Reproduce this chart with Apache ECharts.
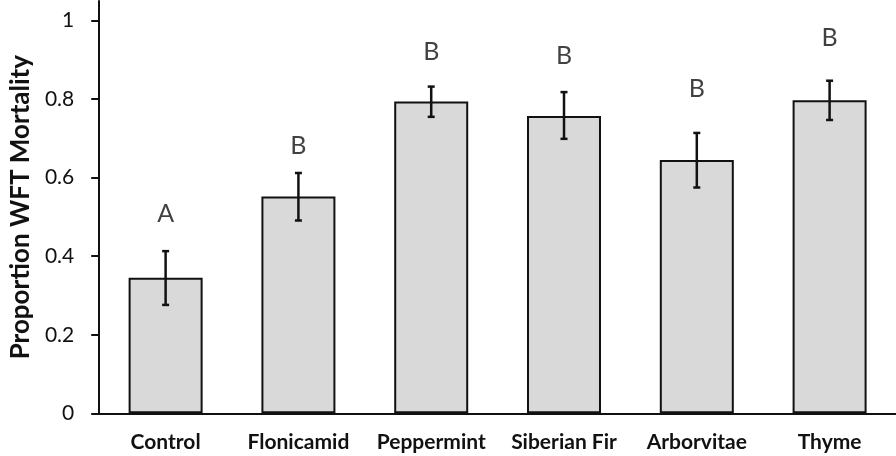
<!DOCTYPE html>
<html>
<head>
<meta charset="utf-8">
<script src="https://cdn.jsdelivr.net/npm/echarts@6/dist/echarts.min.js"></script>
<style>
html,body{margin:0;padding:0;background:#fff;}
#chart{width:896px;height:456px;}
</style>
</head>
<body>
<div id="chart"></div>
<script>
// ---- data ----
const categories = ['Control', 'Flonicamid', 'Peppermint', 'Siberian Fir', 'Arborvitae', 'Thyme'];
const meanValues = [0.345, 0.552, 0.794, 0.757, 0.645, 0.797];
const errLow = [0.276, 0.491, 0.755, 0.699, 0.575, 0.747];
const errHigh = [0.413, 0.612, 0.832, 0.818, 0.714, 0.847];
const groupLetters = ['A', 'B', 'B', 'B', 'B', 'B'];
const letterY = [0.508, 0.680, 0.921, 0.911, 0.827, 0.955];
const yTicks = [0, 0.2, 0.4, 0.6, 0.8, 1];

const FONT = "Lato, 'Open Sans', sans-serif";

const chart = echarts.init(document.getElementById('chart'), null, {renderer: 'canvas'});

const option = {
  backgroundColor: '#ffffff',
  animation: false,
  grid: {left: 94, right: 0, top: 1, bottom: 42.7, containLabel: false},
  xAxis: {
    type: 'category',
    data: categories,
    axisLine: {lineStyle: {color: '#111', width: 2}},
    axisTick: {show: false},
    axisLabel: {
      interval: 0,
      color: '#111', fontFamily: FONT, fontWeight: 'bold', fontSize: 21, margin: 18
    },
    splitLine: {show: false}
  },
  yAxis: {
    type: 'value',
    min: 0,
    max: 1.05,
    name: 'Proportion WFT Mortality',
    nameLocation: 'middle',
    nameGap: 65,
    nameTextStyle: {color: '#111', fontFamily: FONT, fontWeight: 'bold', fontSize: 26},
    axisLine: {show: true, lineStyle: {color: '#111', width: 2}},
    axisTick: {show: true, inside: false, length: 8, lineStyle: {color: '#111', width: 2}, customValues: yTicks},
    axisLabel: {
      color: '#111', fontFamily: FONT, fontSize: 21, margin: 25, customValues: yTicks,
      formatter: v => String(Math.round(v * 10) / 10)
    },
    splitLine: {show: false}
  },
  series: [
    {
      type: 'bar',
      data: meanValues,
      barWidth: 74,
      itemStyle: {color: '#d9d9d9', borderColor: '#111', borderWidth: 2},
      z: 2
    },
    {
      type: 'custom',
      data: categories.map((c, i) => [i, errLow[i], errHigh[i]]),
      renderItem: function (params, api) {
        const x = api.value(0);
        const lo = api.coord([x, api.value(1)]);
        const hi = api.coord([x, api.value(2)]);
        const cap = 3.5;
        const style = {stroke: '#111', lineWidth: 2.5};
        return {
          type: 'group',
          children: [
            {type: 'line', shape: {x1: lo[0], y1: lo[1], x2: hi[0], y2: hi[1]}, style: style},
            {type: 'line', shape: {x1: lo[0] - cap, y1: lo[1], x2: lo[0] + cap, y2: lo[1]}, style: style},
            {type: 'line', shape: {x1: hi[0] - cap, y1: hi[1], x2: hi[0] + cap, y2: hi[1]}, style: style}
          ]
        };
      },
      z: 3
    },
    {
      type: 'scatter',
      data: categories.map((c, i) => [i, letterY[i]]),
      symbolSize: 1,
      itemStyle: {color: 'rgba(0,0,0,0)'},
      label: {
        show: true,
        position: 'inside',
        formatter: p => groupLetters[p.dataIndex],
        color: '#111',
        fontFamily: FONT,
        fontSize: 25
      },
      z: 4
    }
  ]
};
chart.setOption(option);
</script>
</body>
</html>
